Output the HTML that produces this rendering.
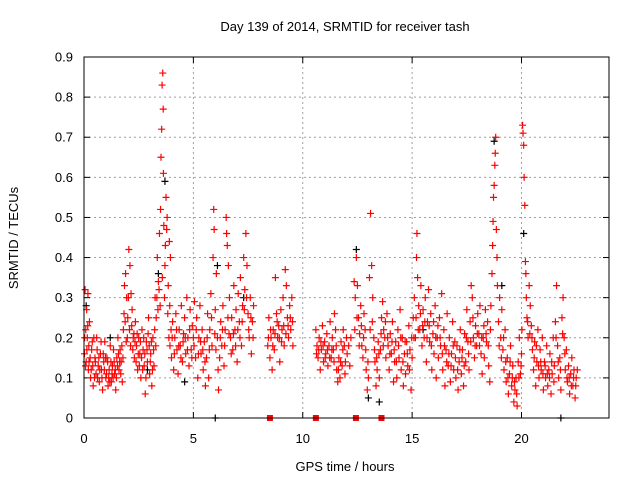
<!DOCTYPE html>
<html><head><meta charset="utf-8"><style>
html,body{margin:0;padding:0;background:#fff;}
svg{display:block;font-family:"Liberation Sans",sans-serif;}
</style></head><body>
<svg id="chart" width="640" height="480" viewBox="0 0 640 480">
<text x="345" y="31" text-anchor="middle" font-size="13">Day 139 of 2014, SRMTID for receiver tash</text>
<text x="345" y="471" text-anchor="middle" font-size="13">GPS time / hours</text>
<text transform="translate(18,238) rotate(-90)" text-anchor="middle" font-size="13">SRMTID / TECUs</text>
<g id="grid"></g><g id="ticks"></g><g id="black"></g><g id="red"></g>
<rect x="84" y="57" width="525" height="361" fill="none" stroke="#000" stroke-width="1"/>
</svg>
<script>
const xTicks=[0,5,10,15,20];
const yTicks=[0,0.1,0.2,0.3,0.4,0.5,0.6,0.7,0.8,0.9];
const yTickLabels=["0","0.1","0.2","0.3","0.4","0.5","0.6","0.7","0.8","0.9"];
const blackSeries=[[0.1,.28],[3.4,.36],[3.7,.59],[6.1,.38],[12.45,.42],[13.0,.05],[13.5,.04],[18.75,.69],[19.1,.33],[20.1,.46],[1.2,.2],[7.3,.3],[15.5,.22],[6.0,0],[21.8,0],[2.9,.12],[4.6,.09]];
const redSeries=[[0.02,.16],[0.05,.32],[0.08,.22],[0.1,.14],[0.12,.27],[0.15,.2],[0.18,.31],[0.2,.12],[0.22,.18],[0.25,.24],[0.28,.15],[0.3,.1],[0.35,.17],[0.4,.13],[0.42,.08],[0.45,.2],[0.5,.15],[0.55,.11],[0.6,.17],[0.65,.13],[0.7,.09],[0.75,.16],[0.8,.12],[0.85,.07],[0.9,.14],[0.95,.19],[1.0,.1],
[1.05,.15],[1.1,.08],[1.15,.12],[1.2,.18],[1.25,.09],[1.3,.13],[1.35,.17],[1.4,.11],[1.45,.07],[1.5,.15],[1.55,.2],[1.6,.12],[1.65,.17],[1.7,.14],[1.75,.09],[1.8,.22],[1.85,.33],[1.9,.36],[1.95,.3],[2.0,.25],
[2.05,.42],[2.1,.38],[2.15,.31],[2.2,.27],[2.25,.2],[2.3,.15],[2.35,.24],[2.4,.18],[2.45,.12],[2.5,.2],[2.55,.16],[2.6,.1],[2.65,.22],[2.7,.17],[2.75,.13],[2.8,.06],[2.85,.19],[2.9,.14],[2.95,.25],[3.0,.11],
[3.05,.16],[3.1,.08],[3.15,.2],[3.2,.13],[3.25,.3],[3.3,.25],[3.35,.4],[3.4,.34],[3.45,.46],[3.5,.52],[3.52,.65],[3.55,.72],[3.57,.83],[3.6,.86],[3.62,.77],[3.63,.61],[3.65,.48],[3.7,.38],[3.72,.43],[3.75,.55],[3.78,.47],[3.8,.5],[3.85,.33],[3.9,.44],[3.92,.28],[3.95,.4],[3.98,.22],[4.0,.15],
[4.05,.24],[4.1,.12],[4.15,.2],[4.2,.26],[4.25,.17],[4.3,.11],[4.35,.22],[4.4,.18],[4.45,.28],[4.5,.14],[4.55,.21],[4.6,.25],[4.65,.16],[4.7,.3],[4.75,.2],[4.8,.13],[4.85,.27],[4.9,.17],[4.95,.23],[5.0,.2],
[5.05,.29],[5.1,.15],[5.15,.25],[5.2,.1],[5.25,.2],[5.3,.28],[5.35,.16],[5.4,.22],[5.45,.12],[5.5,.19],[5.55,.08],[5.6,.15],[5.65,.26],[5.7,.1],[5.75,.22],[5.8,.31],[5.85,.18],[5.9,.4],[5.93,.52],[5.95,.47],[6.0,.27],
[6.05,.36],[6.1,.2],[6.15,.07],[6.2,.15],[6.25,.24],[6.3,.18],[6.35,.28],[6.4,.13],[6.45,.22],[6.5,.5],[6.52,.46],[6.55,.43],[6.6,.38],[6.65,.3],[6.7,.2],[6.75,.25],[6.8,.17],[6.85,.33],[6.9,.22],[6.95,.27],[7.0,.14],
[7.05,.31],[7.1,.24],[7.15,.35],[7.2,.18],[7.25,.28],[7.3,.4],[7.35,.32],[7.4,.46],[7.45,.38],[7.5,.26],[7.55,.2],[7.6,.3],[7.65,.16],[7.7,.24],[7.75,.28],
[8.4,.18],[8.45,.25],[8.5,.15],[8.55,.2],[8.6,.12],[8.65,.22],[8.7,.17],[8.75,.35],[8.8,.26],[8.85,.2],[8.9,.23],[8.95,.14],[9.0,.27],[9.05,.22],[9.1,.3],[9.15,.18],[9.2,.37],[9.25,.33],[9.3,.25],[9.35,.2],[9.4,.28],[9.45,.22],[9.5,.3],[9.55,.18],
[10.6,.22],[10.65,.18],[10.7,.15],[10.75,.2],[10.8,.12],[10.85,.17],[10.9,.23],[10.95,.14],[11.0,.19],[11.05,.16],[11.1,.21],[11.15,.13],[11.2,.18],[11.25,.24],[11.3,.15],[11.35,.2],[11.4,.17],[11.45,.26],[11.5,.22],[11.55,.12],[11.6,.09],[11.65,.15],[11.7,.1],[11.75,.19],[11.8,.13],[11.85,.22],[11.9,.18],[11.95,.14],[12.0,.2],
[12.35,.34],[12.4,.3],[12.45,.4],[12.5,.33],[12.55,.25],[12.6,.21],[12.65,.28],[12.7,.18],[12.75,.15],[12.8,.26],[12.85,.22],[12.9,.12],[12.95,.07],[13.0,.1],[13.05,.35],[13.1,.51],[13.15,.38],[13.2,.3],[13.25,.2],[13.3,.14],[13.35,.08],[13.4,.12],[13.45,.19],[13.5,.1],
[13.55,.17],[13.6,.25],[13.65,.29],[13.7,.22],[13.75,.2],[13.8,.15],[13.85,.26],[13.9,.18],[13.95,.12],[14.0,.21],[14.05,.16],[14.1,.24],[14.15,.09],[14.2,.14],[14.25,.19],[14.3,.1],[14.35,.22],[14.4,.15],[14.45,.27],[14.5,.12],[14.55,.2],[14.6,.08],[14.65,.16],[14.7,.11],[14.75,.19],[14.8,.13],[14.85,.23],[14.9,.17],[14.95,.07],[15.0,.15],
[15.05,.25],[15.1,.3],[15.15,.2],[15.2,.4],[15.22,.46],[15.25,.35],[15.3,.28],[15.35,.22],[15.4,.33],[15.45,.18],[15.5,.27],[15.55,.2],[15.6,.3],[15.65,.14],[15.7,.24],[15.75,.32],[15.8,.19],[15.85,.26],[15.9,.12],[15.95,.21],[16.0,.16],[16.05,.28],[16.1,.1],[16.15,.2],[16.2,.15],[16.25,.25],[16.3,.18],[16.35,.31],[16.4,.12],[16.45,.22],[16.5,.08],[16.55,.17],[16.6,.26],[16.65,.13],[16.7,.2],[16.75,.09],[16.8,.16],[16.85,.24],[16.9,.12],[16.95,.19],
[17.0,.1],[17.05,.18],[17.1,.07],[17.15,.14],[17.2,.22],[17.25,.11],[17.3,.17],[17.35,.08],[17.4,.21],[17.45,.14],[17.5,.27],[17.55,.19],[17.6,.12],[17.65,.24],[17.7,.33],[17.75,.3],[17.8,.2],[17.85,.15],[17.9,.23],[17.95,.18],[18.0,.26],[18.05,.21],[18.1,.28],[18.15,.16],[18.2,.11],[18.25,.2],[18.3,.15],[18.35,.27],[18.4,.19],[18.45,.24],[18.5,.13],
[18.55,.09],[18.6,.28],[18.65,.36],[18.68,.43],[18.7,.49],[18.72,.55],[18.75,.58],[18.78,.63],[18.8,.66],[18.82,.7],[18.85,.47],[18.88,.4],[18.9,.33],[18.95,.24],[19.0,.3],[19.05,.2],
[19.1,.27],[19.15,.17],[19.2,.12],[19.25,.22],[19.3,.09],[19.35,.15],[19.4,.06],[19.45,.11],[19.5,.18],[19.55,.08],[19.6,.13],[19.65,.04],[19.7,.07],[19.75,.1],[19.8,.03],[19.85,.14],[19.9,.2],[19.95,.11],[20.0,.16],
[20.02,.22],[20.05,.73],[20.07,.71],[20.1,.68],[20.12,.6],[20.15,.53],[20.18,.39],[20.2,.36],[20.22,.3],[20.25,.25],[20.3,.2],[20.35,.33],[20.4,.28],[20.45,.23],[20.5,.17],[20.55,.12],[20.6,.19],[20.65,.08],[20.7,.14],[20.75,.22],[20.8,.1],[20.85,.17],[20.9,.12],[20.95,.2],[21.0,.07],
[21.05,.14],[21.1,.1],[21.15,.18],[21.2,.08],[21.25,.12],[21.3,.16],[21.35,.06],[21.4,.11],[21.45,.2],[21.5,.13],[21.55,.24],[21.6,.33],[21.65,.18],[21.7,.1],[21.75,.15],[21.8,.07],[21.85,.25],[21.9,.3],[21.95,.2],[22.0,.12],[22.05,.17],[22.1,.09],[22.15,.13],[22.2,.06],[22.25,.11],[22.3,.15],[22.35,.08],[22.4,.12],[22.45,.05],[22.5,.1]];
const redExtra=[[0.03,.2],[0.07,.13],[0.13,.17],[0.17,.23],[0.23,.14],[0.33,.12],[0.38,.19],[0.48,.1],[0.52,.14],[0.58,.2],[0.62,.1],[0.68,.15],[0.72,.12],[0.78,.19],[0.82,.1],[0.88,.16],[0.93,.12],[0.98,.15],[1.03,.11],[1.08,.14],[1.13,.1],[1.18,.09],[1.23,.14],[1.28,.11],[1.33,.1],[1.38,.14],[1.43,.12],[1.48,.1],[1.53,.13],[1.58,.16],[1.63,.14],[1.68,.11],[1.73,.18],[1.78,.15],[1.83,.26],[1.88,.24],[1.93,.19],[1.98,.2],[2.03,.3],[2.08,.22],[2.13,.18],[2.18,.23],[2.23,.17],[2.28,.21],[2.33,.19],[2.38,.14],[2.43,.21],[2.48,.16],[2.53,.13],[2.58,.19],[2.63,.15],[2.68,.12],[2.73,.2],[2.78,.16],[2.83,.1],[2.88,.17],[2.93,.21],[2.98,.18],
[3.03,.14],[3.08,.19],[3.13,.12],[3.18,.17],[3.23,.22],[3.28,.18],[3.33,.3],[3.38,.27],[3.43,.32],[3.48,.28],[3.58,.35],[3.68,.3],[3.83,.26],[3.88,.2],[3.93,.18],[4.03,.2],[4.13,.16],[4.23,.22],[4.33,.18],[4.43,.15],[4.53,.19],[4.63,.2],[4.73,.17],[4.83,.22],[4.93,.15],[5.03,.18],[5.13,.22],[5.23,.16],[5.33,.19],[5.43,.17],[5.53,.14],[5.63,.2],[5.73,.17],[5.83,.25],[5.98,.21],[6.03,.17],[6.13,.12],[6.23,.2],[6.33,.22],[6.43,.18],[6.58,.25],[6.63,.21],[6.73,.16],[6.83,.21],[6.93,.18],[7.03,.22],[7.13,.2],[7.23,.24],[7.33,.27],[7.43,.3],[7.53,.22],[7.63,.25],[7.73,.2],
[8.43,.2],[8.53,.22],[8.63,.18],[8.73,.21],[8.83,.24],[8.93,.2],[9.03,.19],[9.13,.23],[9.23,.21],[9.33,.23],[9.43,.25],[9.53,.24],
[10.63,.16],[10.73,.17],[10.83,.19],[10.93,.18],[11.03,.15],[11.13,.17],[11.23,.15],[11.33,.17],[11.43,.14],[11.53,.18],[11.63,.12],[11.73,.14],[11.83,.17],[11.93,.11],[12.03,.16],[12.1,.18],[12.15,.13],[12.2,.2],
[12.38,.22],[12.48,.25],[12.58,.18],[12.68,.23],[12.78,.2],[12.88,.17],[12.98,.14],[13.08,.22],[13.18,.24],[13.28,.17],[13.38,.15],[13.48,.16],[13.58,.21],[13.68,.18],[13.78,.24],[13.88,.2],[13.98,.16],[14.08,.19],[14.18,.17],[14.28,.14],[14.38,.18],[14.48,.2],[14.58,.14],[14.68,.19],[14.78,.16],[14.88,.12],[14.98,.2],
[15.08,.2],[15.18,.25],[15.28,.22],[15.38,.26],[15.48,.23],[15.58,.24],[15.68,.2],[15.78,.23],[15.88,.18],[15.98,.24],[16.08,.2],[16.18,.23],[16.28,.2],[16.38,.16],[16.48,.18],[16.58,.14],[16.68,.16],[16.78,.13],[16.88,.18],[16.98,.15],[17.08,.12],[17.18,.17],[17.28,.15],[17.38,.13],[17.48,.2],[17.58,.16],[17.68,.19],[17.78,.25],[17.88,.18],[17.98,.21],[18.08,.18],[18.18,.2],[18.28,.23],[18.38,.21],[18.48,.18],[18.58,.22],[18.98,.18],[19.08,.15],[19.18,.2],[19.28,.14],[19.38,.1],[19.48,.14],[19.58,.1],[19.68,.09],[19.78,.06],[19.88,.1],[19.98,.13],
[20.28,.24],[20.38,.21],[20.48,.2],[20.58,.15],[20.68,.18],[20.78,.13],[20.88,.14],[20.98,.11],[21.08,.13],[21.18,.11],[21.28,.1],[21.38,.14],[21.48,.09],[21.58,.2],[21.68,.14],[21.78,.12],[21.88,.21],[21.98,.16],[22.08,.1],[22.18,.1],[22.28,.08],[22.38,.1],[22.48,.08],[22.55,.12]];
const redZeros=[8.5,10.6,12.43,13.6];

const NS="http://www.w3.org/2000/svg";
const X0=84,X1=609,Y0=418,Y1=57,XMAX=24,YMAX=0.9;
function xs(v){return X0+(v/XMAX)*(X1-X0);}
function ys(v){return Y0-(v/YMAX)*(Y0-Y1);}
function mk(tag,attrs,parent){const e=document.createElementNS(NS,tag);for(const k in attrs)e.setAttribute(k,attrs[k]);parent.appendChild(e);return e;}
const grid=document.getElementById('grid'),ticks=document.getElementById('ticks');
xTicks.forEach(t=>{
  const x=xs(t);
  if(t>0){const g=mk('line',{x1:x,x2:x,y1:Y1,y2:Y0,stroke:'#a0a0a0','stroke-dasharray':'2,3'},grid);
  
  }
  mk('line',{x1:x,x2:x,y1:Y0,y2:Y0-6,stroke:'#000'},ticks);
  mk('line',{x1:x,x2:x,y1:Y1,y2:Y1+6,stroke:'#000'},ticks);
  const l=mk('text',{x:x,y:443,'text-anchor':'middle','font-size':13},ticks);
  l.textContent=String(t);
  
  
});
yTicks.forEach((t,i)=>{
  const y=ys(t);
  if(t>0&&t<YMAX){const g=mk('line',{x1:X0,x2:X1,y1:y,y2:y,stroke:'#a0a0a0','stroke-dasharray':'2,3'},grid);
  
  }
  mk('line',{x1:X0,x2:X0+6,y1:y,y2:y,stroke:'#000'},ticks);
  mk('line',{x1:X1,x2:X1-6,y1:y,y2:y,stroke:'#000'},ticks);
  const l=mk('text',{x:73,y:y+4.5,'text-anchor':'end','font-size':13},ticks);
  l.textContent=yTickLabels[i];
  
  
});
function plot(series,gid,color,name){
  const g=document.getElementById(gid);
  series.forEach(p=>{
    const x=xs(p[0]),y=ys(p[1]);
    const e=mk('path',{d:`M${x-3.5},${y}H${x+3.5}M${x},${y-3.5}V${y+3.5}`,stroke:color,'stroke-width':1.2,fill:'none'},g);
    
    
  });
}
plot(blackSeries,'black','#000','black-point');
plot(redSeries,'red','#ff0000','red-point');
plot(redExtra,'red','#ff0000','red-point');
const redG=document.getElementById('red');
redZeros.forEach(h=>{
  const r=mk('rect',{x:xs(h)-3,y:Y0-3,width:6,height:6,fill:'#ff0000'},redG);
  
  
});
</script>
</body></html>
